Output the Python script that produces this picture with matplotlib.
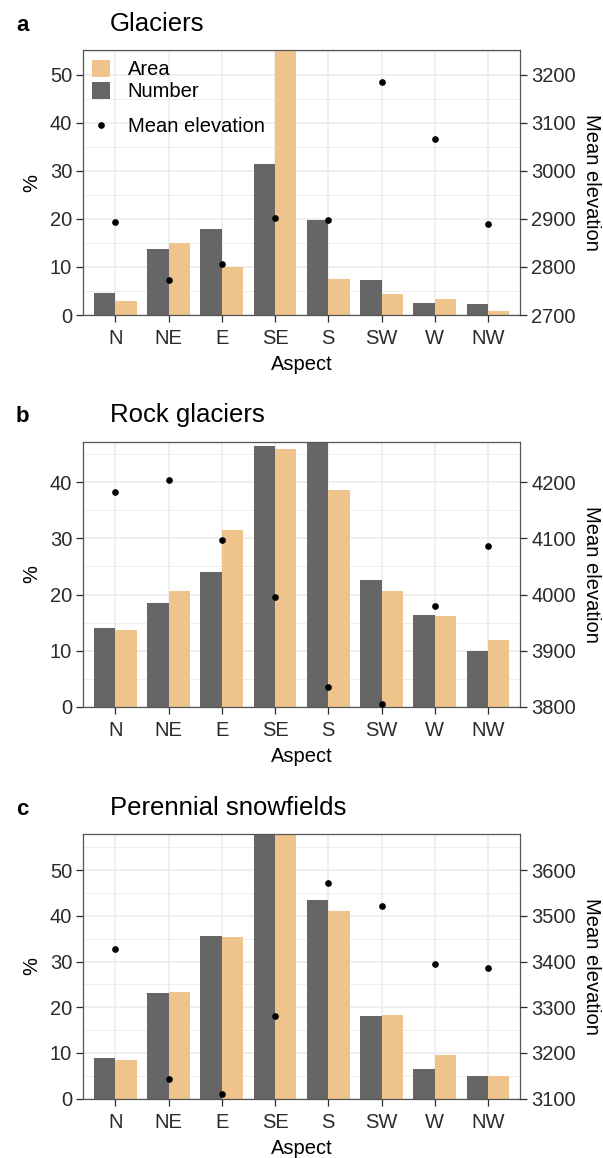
import matplotlib
matplotlib.use("Agg")
import matplotlib.pyplot as plt
from matplotlib.patches import Patch
from matplotlib.lines import Line2D
import numpy as np

plt.rcParams['font.family'] = ['Liberation Sans', 'DejaVu Sans']

aspects = ["N", "NE", "E", "SE", "S", "SW", "W", "NW"]

# Panel a: Glaciers
glac_number = [4.5, 13.7, 18.0, 31.5, 19.8, 7.2, 2.6, 2.2]
glac_area = [2.9, 15.0, 10.1, 55.2, 7.5, 4.4, 3.4, 0.8]
glac_elev = [2894, 2773, 2806, 2903, 2898, 3185, 3067, 2889]

# Panel b: Rock glaciers
rock_number = [14.0, 18.5, 24.0, 46.4, 47.25, 22.6, 16.4, 9.9]
rock_area = [13.7, 20.6, 31.5, 45.9, 38.6, 20.7, 16.2, 11.9]
rock_elev = [4182, 4205, 4097, 3996, 3836, 3804, 3980, 4086]

# Panel c: Perennial snowfields
snow_number = [9.0, 23.1, 35.6, 57.9, 43.5, 18.1, 6.6, 4.9]
snow_area = [8.4, 23.3, 35.4, 57.9, 41.1, 18.3, 9.5, 4.9]
snow_elev = [3427, 3143, 3111, 3281, 3571, 3522, 3394, 3385]

W, H = 603, 1158
fig = plt.figure(figsize=(W / 100, H / 100), dpi=100)

COL_NUM = "#666666"
COL_AREA = "#EEC48C"
GRID = "#EBEBEB"
TXT = "#2b2b2b"
TICKFS = 14.5
LABFS = 14.5

panels = [
    dict(letter="a", title="Glaciers", number=glac_number, area=glac_area,
         elev=glac_elev, base=2700, top=50, bottom=315, yticks=[0, 10, 20, 30, 40, 50], legend=True),
    dict(letter="b", title="Rock glaciers", number=rock_number, area=rock_area,
         elev=rock_elev, base=3800, top=441.7, bottom=706.7, yticks=[0, 10, 20, 30, 40], legend=False),
    dict(letter="c", title="Perennial snowfields", number=snow_number, area=snow_area,
         elev=snow_elev, base=3100, top=834, bottom=1098.7, yticks=[0, 10, 20, 30, 40, 50], legend=False),
]

left_px, right_px = 83.3, 520.0
x = np.arange(len(aspects))
bw = 0.4

for p in panels:
    ax = fig.add_axes([left_px / W, 1 - p["bottom"] / H, (right_px - left_px) / W,
                       (p["bottom"] - p["top"]) / H])
    ymax = max(max(p["number"]), max(p["area"]))
    ax.bar(x - bw / 2, p["number"], width=bw, color=COL_NUM, zorder=2, label="Number")
    ax.bar(x + bw / 2, p["area"], width=bw, color=COL_AREA, zorder=2, label="Area")
    ax.set_xlim(-0.6, len(aspects) - 0.4)
    ax.set_ylim(0, ymax)
    ax.set_xticks(x)
    ax.set_xticklabels(aspects)
    ax.set_yticks(p["yticks"])
    minor = [v + 5 for v in p["yticks"] if v + 5 < ymax]
    ax.set_yticks(minor, minor=True)
    ax.grid(True, which="major", color=GRID, linewidth=1.1, zorder=0)
    ax.yaxis.grid(True, which="minor", color=GRID, linewidth=0.6, zorder=0)
    ax.set_axisbelow(True)
    ax.tick_params(axis="both", which="major", length=5, width=0.9, color=TXT,
                   labelsize=TICKFS, labelcolor=TXT, pad=3)
    ax.tick_params(axis="x", which="major", pad=5)
    ax.tick_params(axis="y", which="minor", length=0)
    for s in ax.spines.values():
        s.set_color("#555555")
        s.set_linewidth(0.9)
    ax.set_xlabel("Aspect", fontsize=LABFS, labelpad=5)
    ax.set_ylabel("%", fontsize=LABFS, labelpad=6)

    ax2 = ax.twinx()
    ax2.set_ylim(p["base"], p["base"] + 10 * ymax)
    ax2.plot(x, p["elev"], linestyle="none", marker="o", markersize=3.8,
             color="black", zorder=3)
    ax2.set_yticks([p["base"] + 10 * v for v in p["yticks"]])
    ax2.tick_params(axis="y", length=5, width=0.9, color=TXT, labelsize=TICKFS,
                    labelcolor=TXT, pad=3)
    for s in ax2.spines.values():
        s.set_visible(False)
    ax2.set_ylabel("Mean elevation", fontsize=LABFS, rotation=270, labelpad=18)

    title_base = p["top"] - 19.3
    fig.text(16 / W, 1 - title_base / H, p["letter"], fontsize=16, fontweight="bold",
             va="baseline", ha="left")
    fig.text(110 / W, 1 - title_base / H, p["title"], fontsize=18.5,
             va="baseline", ha="left")

    if p["legend"]:
        h1 = [Patch(facecolor=COL_AREA, edgecolor="none"),
              Patch(facecolor=COL_NUM, edgecolor="none")]
        leg1 = ax2.legend(h1, ["Area", "Number"], loc="upper left",
                          bbox_to_anchor=(0.0206, 0.962), frameon=False,
                          fontsize=LABFS, handlelength=0.9, handleheight=0.9,
                          handletextpad=0.85, labelspacing=0.12, borderpad=0,
                          borderaxespad=0)
        ax2.add_artist(leg1)
        h2 = [Line2D([], [], linestyle="none", marker="o", markersize=3.8, color="black")]
        ax2.legend(h2, ["Mean elevation"], loc="upper left",
                   bbox_to_anchor=(0.0206, 0.748), frameon=False, fontsize=LABFS,
                   handlelength=0.9, handletextpad=0.85, borderpad=0, borderaxespad=0)

fig.savefig("out.png", dpi=100)
